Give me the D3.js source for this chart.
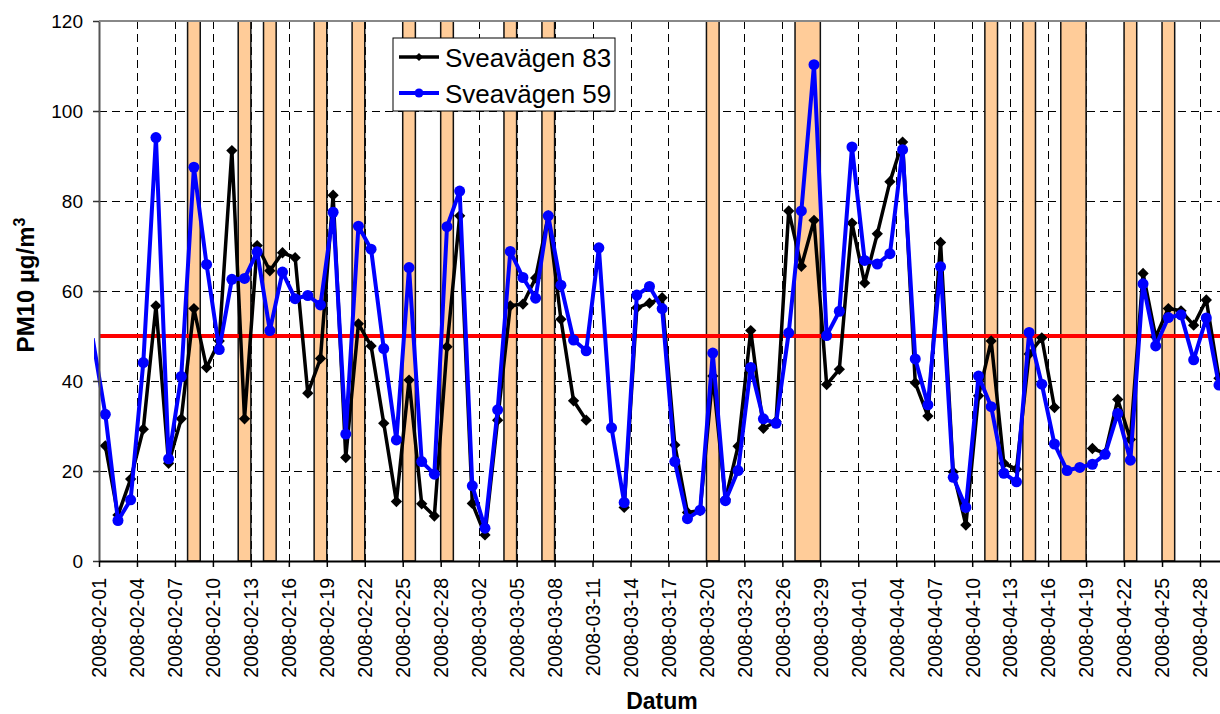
<!DOCTYPE html>
<html>
<head>
<meta charset="UTF-8">
<title>PM10 Sveavägen</title>
<script src="https://d3js.org/d3.v7.min.js"></script>
<style>
  body { margin: 0; background: #fff; overflow: hidden; }
  svg text { font-family: "Liberation Sans", Arial, sans-serif; fill: #000; }
</style>
</head>
<body>
<div id="chart"></div>
<script>
// daily values, first entry is 2008-01-31 (one day before the axis starts)
var firstDay = "2008-01-31";

var sv83 = [null,
  25.6, 10.2, 18.2, 29.3, 56.7, 21.7, 31.6, 56.1, 43.0, 48.9,
  91.2, 31.6, 70.1, 64.5, 68.5, 67.4, 37.3, 45.0, 81.3, 23.0,
  52.7, 47.8, 30.6, 13.2, 40.2, 12.7, 10.0, 47.6, 76.7, 12.8,
  5.8, 31.3, 56.7, 57.1, 62.9, 76.7, 53.7, 35.6, 31.3, null,
  null, 11.9, 56.3, 57.3, 58.5, 25.8, 10.8, 11.2, 41.1, 13.7,
  25.5, 51.2, 29.5, 31.0, 77.8, 65.5, 75.7, 39.2, 42.6, 75.1,
  61.8, 72.7, 84.3, 93.1, 39.6, 32.2, 70.8, 19.8, 8.0, 36.7,
  48.9, 21.7, 20.4, 46.0, 49.6, 34.1, null, null, 25.0, 23.9,
  35.9, 27.0, 63.9, 49.8, 56.1, 55.6, 52.4, 58.0, 40.6];

var sv59 = [49.5,
  32.6, 9.0, 13.6, 44.1, 94.1, 22.7, 41.0, 87.5, 65.9, 47.0,
  62.6, 62.8, 68.7, 51.2, 64.2, 58.3, 59.0, 56.9, 77.5, 28.2,
  74.4, 69.3, 47.2, 26.9, 65.2, 22.1, 19.3, 74.3, 82.2, 16.7,
  7.3, 33.6, 68.8, 63.0, 58.4, 76.7, 61.3, 49.1, 46.7, 69.6,
  29.6, 13.0, 59.1, 61.0, 56.1, 22.1, 9.4, 11.3, 46.2, 13.4,
  20.1, 43.0, 31.6, 30.6, 50.7, 77.8, 110.3, 50.1, 55.5, 92.0,
  66.8, 66.0, 68.3, 91.4, 44.9, 34.7, 65.4, 18.6, 11.9, 41.1,
  34.3, 19.5, 17.6, 50.8, 39.3, 26.0, 20.1, 20.8, 21.5, 23.7,
  32.8, 22.4, 61.6, 47.8, 54.1, 54.7, 44.7, 54.0, 39.1];

// shaded days
var highlightDays = ["2008-02-08", "2008-02-12", "2008-02-14", "2008-02-18", "2008-02-21",
  "2008-02-25", "2008-02-28", "2008-03-04", "2008-03-07", "2008-03-20", "2008-03-27",
  "2008-03-28", "2008-04-11", "2008-04-14", "2008-04-17", "2008-04-18", "2008-04-22",
  "2008-04-25"];

var tickLabels = ["2008-02-01", "2008-02-04", "2008-02-07", "2008-02-10", "2008-02-13",
  "2008-02-16", "2008-02-19", "2008-02-22", "2008-02-25", "2008-02-28", "2008-03-02",
  "2008-03-05", "2008-03-08", "2008-03-11", "2008-03-14", "2008-03-17", "2008-03-20",
  "2008-03-23", "2008-03-26", "2008-03-29", "2008-04-01", "2008-04-04", "2008-04-07",
  "2008-04-10", "2008-04-13", "2008-04-16", "2008-04-19", "2008-04-22", "2008-04-25",
  "2008-04-28"];

var yTicks = [0, 20, 40, 60, 80, 100, 120];
var limitValue = 50;
var seriesNames = ["Sveavägen 83", "Sveavägen 59"];
var xDomain = ["2008-02-01", "2008-04-30"];

var width = 1220, height = 714;
var plot = {left: 99, top: 21, right: 1225.3, bottom: 561};

var parse = d3.utcParse("%Y-%m-%d");
var start = parse(firstDay);
var dates = d3.utcDay.range(start, d3.utcDay.offset(start, sv59.length));

var svg = d3.select("#chart").append("svg")
    .attr("width", width)
    .attr("height", height);

// line is cut a little left of the y axis
svg.append("clipPath").attr("id", "clip")
    .append("rect")
    .attr("x", 94).attr("y", 0)
    .attr("width", width).attr("height", height);

var x = d3.scaleUtc()
    .domain(xDomain.map(parse))
    .range([plot.left, plot.right]);

var y = d3.scaleLinear()
    .domain([0, 120])
    .range([plot.bottom, plot.top]);

var tickDates = tickLabels.map(parse);
var mid = function (d) { return x(d3.utcHour.offset(d, 12)); };

// gridlines
var grid = svg.append("g").attr("stroke", "#000").attr("stroke-width", 1)
    .attr("stroke-dasharray", "8,5");
grid.selectAll(".vg").data(tickDates.slice(1)).enter().append("line")
    .attr("x1", function (d) { return Math.round(x(d)) + 0.5; })
    .attr("x2", function (d) { return Math.round(x(d)) + 0.5; })
    .attr("y1", plot.top).attr("y2", plot.bottom);
grid.selectAll(".hg").data(yTicks.slice(1, -1)).enter().append("line")
    .attr("x1", plot.left).attr("x2", plot.right)
    .attr("y1", function (d) { return Math.round(y(d)) + 0.5; })
    .attr("y2", function (d) { return Math.round(y(d)) + 0.5; });

// merge consecutive shaded days into one bar
var runs = [];
highlightDays.map(parse).forEach(function (d) {
    var last = runs[runs.length - 1];
    if (last && +last.end === +d) last.end = d3.utcDay.offset(d, 1);
    else runs.push({start: d, end: d3.utcDay.offset(d, 1)});
});
svg.append("g").selectAll("rect").data(runs).enter().append("rect")
    .attr("x", function (d) { return x(d.start); })
    .attr("width", function (d) { return x(d.end) - x(d.start); })
    .attr("y", plot.top)
    .attr("height", plot.bottom - plot.top)
    .attr("fill", "#FFCC99")
    .attr("stroke", "#111")
    .attr("stroke-width", 1.5);

// limit line
svg.append("line")
    .attr("x1", plot.left).attr("x2", plot.right)
    .attr("y1", y(limitValue)).attr("y2", y(limitValue))
    .attr("stroke", "#FF0000").attr("stroke-width", 4);

function rows(values) {
    return values.map(function (v, i) { return {date: dates[i], v: v}; });
}
var line = d3.line()
    .defined(function (d) { return d.v != null; })
    .x(function (d) { return mid(d.date); })
    .y(function (d) { return y(d.v); });

var inAxis = function (d) { return d.v != null && d.date >= x.domain()[0]; };

// Sveavägen 83
var black = rows(sv83);
svg.append("path").datum(black)
    .attr("fill", "none").attr("stroke", "#000").attr("stroke-width", 3.5)
    .attr("stroke-linejoin", "round")
    .attr("d", line);
svg.append("g").selectAll("path").data(black.filter(inAxis)).enter().append("path")
    .attr("d", d3.symbol(d3.symbolSquare, 64))
    .attr("transform", function (d) { return "translate(" + mid(d.date) + "," + y(d.v) + ") rotate(45)"; })
    .attr("fill", "#000");

// Sveavägen 59
var blue = rows(sv59);
svg.append("path").datum(blue)
    .attr("clip-path", "url(#clip)")
    .attr("fill", "none").attr("stroke", "#0000FF").attr("stroke-width", 4)
    .attr("stroke-linejoin", "round")
    .attr("d", line);
svg.append("g").selectAll("circle").data(blue.filter(inAxis)).enter().append("circle")
    .attr("cx", function (d) { return mid(d.date); })
    .attr("cy", function (d) { return y(d.v); })
    .attr("r", 5.5)
    .attr("fill", "#0000FF");

// axes
var yAxis = svg.append("g")
    .attr("transform", "translate(" + plot.left + ",0)")
    .call(d3.axisLeft(y).tickValues(yTicks).tickSize(6).tickSizeOuter(0).tickPadding(10));
yAxis.select(".domain").attr("stroke", "#555").attr("stroke-width", 2);
yAxis.selectAll(".tick line").attr("stroke", "#333").attr("stroke-width", 1.5);
yAxis.selectAll("text").style("font-size", "19px");

var xAxis = svg.append("g")
    .attr("transform", "translate(0," + plot.bottom + ")")
    .call(d3.axisBottom(x).tickValues(tickDates).tickSize(6).tickSizeOuter(0)
        .tickFormat(d3.utcFormat("%Y-%m-%d")));
xAxis.select(".domain").attr("stroke", "#000").attr("stroke-width", 2);
xAxis.selectAll(".tick line").attr("stroke", "#000").attr("stroke-width", 1.5);
xAxis.selectAll("text")
    .attr("transform", "rotate(-90)")
    .attr("x", -17).attr("y", 0).attr("dy", "0.35em")
    .style("text-anchor", "end")
    .style("font-size", "19.5px");

// top border of plot area
svg.append("line")
    .attr("x1", plot.left).attr("x2", plot.right)
    .attr("y1", plot.top).attr("y2", plot.top)
    .attr("stroke", "#888").attr("stroke-width", 2);

// axis titles
var yTitle = svg.append("text")
    .attr("transform", "translate(34,285) rotate(-90)")
    .attr("text-anchor", "middle")
    .style("font-size", "24px").style("font-weight", "bold");
yTitle.append("tspan").text("PM10 µg/m");
yTitle.append("tspan").attr("dy", "-0.55em").style("font-size", "16px").text("3");

svg.append("text")
    .attr("x", 662).attr("y", 709)
    .attr("text-anchor", "middle")
    .style("font-size", "23px").style("font-weight", "bold")
    .text("Datum");

// legend
var legend = svg.append("g").attr("transform", "translate(393,38)");
legend.append("rect")
    .attr("width", 222).attr("height", 73)
    .attr("fill", "#fff").attr("stroke", "#000").attr("stroke-width", 1);
var colors = ["#000", "#0000FF"];
seriesNames.forEach(function (name, i) {
    var ly = 19 + i * 36;
    legend.append("line")
        .attr("x1", 6).attr("x2", 46).attr("y1", ly).attr("y2", ly)
        .attr("stroke", colors[i]).attr("stroke-width", i ? 4 : 3.5);
    if (i === 0) {
        legend.append("path")
            .attr("d", d3.symbol(d3.symbolSquare, 34))
            .attr("transform", "translate(26," + ly + ") rotate(45)")
            .attr("fill", "#000");
    } else {
        legend.append("circle").attr("cx", 26).attr("cy", ly).attr("r", 4.5).attr("fill", "#0000FF");
    }
    legend.append("text")
        .attr("x", 52).attr("y", ly + 9.5)
        .style("font-size", "26px")
        .text(name);
});
</script>
</body>
</html>
